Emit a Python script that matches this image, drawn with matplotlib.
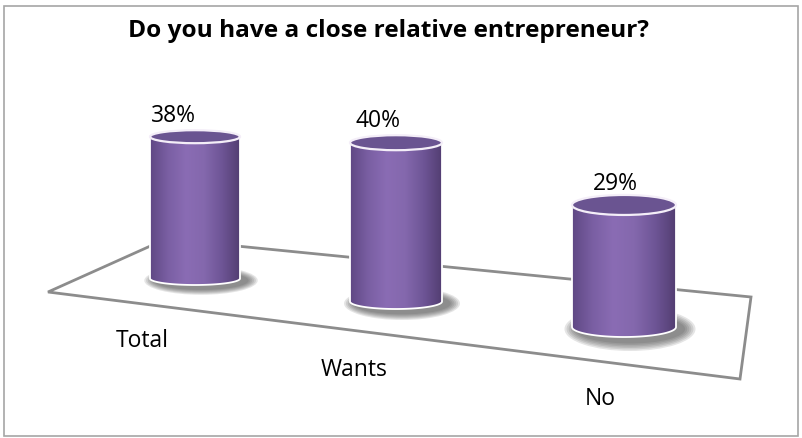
import numpy as np
import matplotlib
matplotlib.use("Agg")
import matplotlib.pyplot as plt
from matplotlib.patches import Polygon, Ellipse, Rectangle, PathPatch
from matplotlib.path import Path
from matplotlib.colors import LinearSegmentedColormap

plt.rcParams['font.family'] = ['Open Sans', 'DejaVu Sans']

title = "Do you have a close relative entrepreneur?"
categories = ["Total", "Wants", "No"]
values = [38, 40, 29]
value_labels = ["38%", "40%", "29%"]

# floor layout (pixel space, y grows downward)
floor = [(48, 292), (166, 239), (751, 297), (740, 379)]
base_x = [195, 396, 624]
base_y = [278.5, 301.5, 327]
widths = [90, 92, 104]
ell_h = [13, 15, 20]
persp = [0.94, 1.0, 1.06]
px_per_pct = 3.97
label_dx = [-22, -18, -9]
label_dy = [-14, -14, -11]
cat_pos = [(142, 341), (354, 370), (600, 399)]

body_cmap = LinearSegmentedColormap.from_list(
    "cyl", ["#5f4884", "#7a5fa3", "#8a6cb4", "#8468ad", "#6e5596", "#533e72"])
top_color = "#6a5491"

fig = plt.figure(figsize=(8.03, 4.38), dpi=100)
ax = fig.add_axes([0, 0, 1, 1])

ax.add_patch(Rectangle((4, 6), 794, 430, fill=False, edgecolor="#a6a6a6", lw=1.2, zorder=1))
ax.add_patch(Polygon(floor, closed=True, facecolor="white", edgecolor="#8c8c8c", lw=2, zorder=2))

ax.text(389, 31, title, ha="center", va="center", fontsize=17.6, fontweight="bold", zorder=10)

grad = np.linspace(0, 1, 256).reshape(1, -1)

for i, v in enumerate(values):
    cx, by, w, eh = base_x[i], base_y[i], widths[i], ell_h[i]
    top = by - v * px_per_pct * persp[i]
    left, right = cx - w / 2, cx + w / 2

    # soft shadow under the base, heavier to the right
    for k in range(6):
        f = 1 - k / 6
        ax.add_patch(Ellipse((cx + 6, by + 2), w * (1.02 + 0.24 * f), eh * (1.3 + 0.9 * f),
                             facecolor="#383838", edgecolor="none", alpha=0.13, zorder=3))

    # body: rectangle plus lower half ellipse
    t = np.linspace(np.pi, 0, 60)
    arc = np.column_stack([cx + (w / 2) * np.cos(t), by + (eh / 2) * np.sin(t)])
    verts = [(left, top), (left, by)] + [tuple(p) for p in arc] + [(right, top), (left, top)]
    codes = [Path.MOVETO] + [Path.LINETO] * (len(verts) - 2) + [Path.CLOSEPOLY]
    body = PathPatch(Path(verts, codes), facecolor="none", edgecolor="white", lw=1.3, zorder=5)
    ax.add_patch(body)
    img = ax.imshow(grad, cmap=body_cmap, aspect="auto",
                    extent=(left, right, by + eh / 2 + 1, top), zorder=4)
    img.set_clip_path(body)

    ax.add_patch(Ellipse((cx, top), w, eh, facecolor=top_color, edgecolor="#f4eef8", lw=1.6, zorder=6))

    ax.text(cx + label_dx[i], top - eh / 2 + label_dy[i], value_labels[i], ha="center", va="center",
            fontsize=16.5, zorder=10)

for (x, y), c in zip(cat_pos, categories):
    ax.text(x, y, c, ha="center", va="center", fontsize=16.5, zorder=10)

ax.set_xlim(0, 803)
ax.set_ylim(438, 0)
ax.axis("off")

fig.savefig("out.png", dpi=100)
